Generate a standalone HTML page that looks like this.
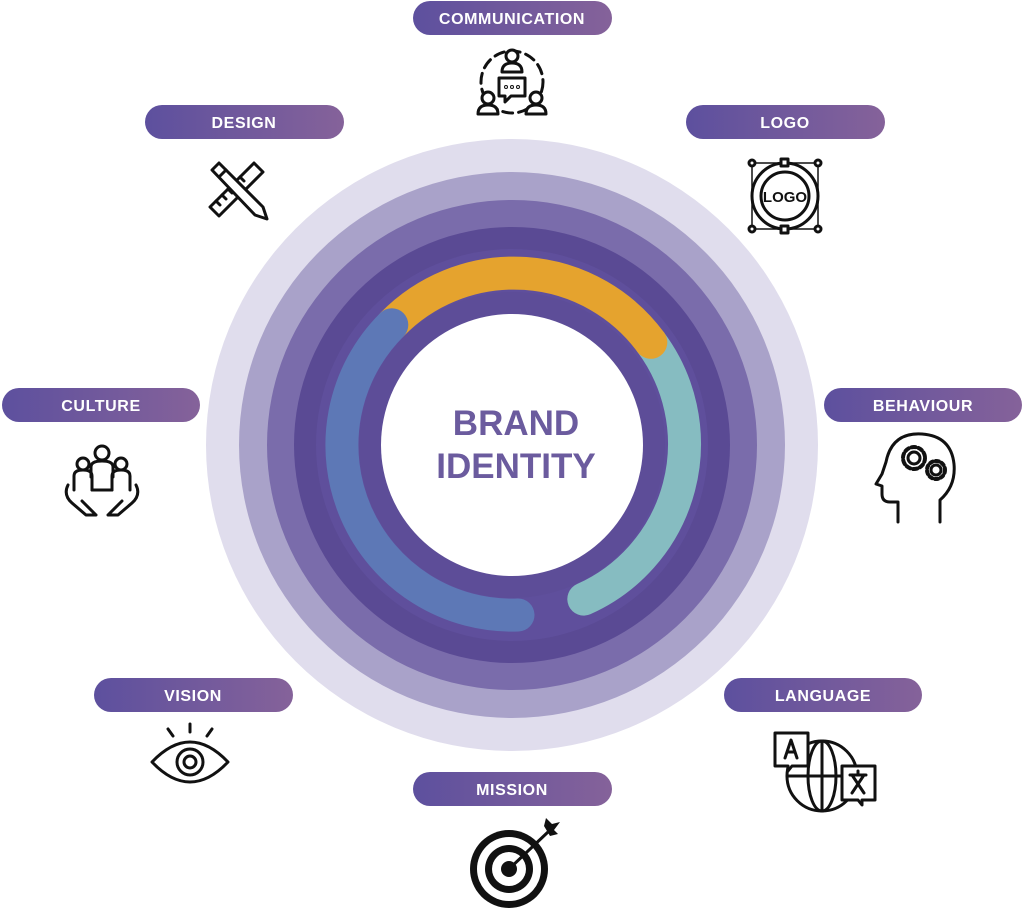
<!DOCTYPE html>
<html><head><meta charset="utf-8"><style>
html,body{margin:0;padding:0;background:#fff;}
svg{display:block;}
.lbl{font-family:"Liberation Sans",sans-serif;font-weight:bold;font-size:16px;letter-spacing:0.6px;fill:#fff;text-anchor:middle;}
.ic{fill:none;stroke:#111;stroke-width:3;stroke-linecap:round;stroke-linejoin:round;}
</style></head><body>
<svg width="1024" height="908" viewBox="0 0 1024 908" xmlns="http://www.w3.org/2000/svg">
<defs>
<linearGradient id="pg" x1="0" x2="1" y1="0" y2="0">
<stop offset="0" stop-color="#5d509e"/><stop offset="1" stop-color="#85629a"/>
</linearGradient>
</defs>
<circle cx="512" cy="445" r="306" fill="#e0dded"/>
<circle cx="512" cy="445" r="273" fill="#a9a2c9"/>
<circle cx="512" cy="445" r="245" fill="#7a6cab"/>
<circle cx="512" cy="445" r="218" fill="#5a4a94"/>
<circle cx="512" cy="445" r="196" fill="#5f4f9c"/>
<g fill="none" stroke-width="33" stroke-linecap="round">
<path d="M 650.8 342.3 A 170 170 0 0 1 583.8 599.1" stroke="#86bcc1"/>
<path d="M 391.8 324.8 A 170 170 0 0 1 650.8 342.3" stroke="#e5a32e"/>
<path d="M 391.8 324.8 A 170 170 0 0 0 518 615" stroke="#5d78b6"/>
</g>
<circle cx="512" cy="445" r="153" fill="#5d4d98"/>
<circle cx="512" cy="445" r="131" fill="#fff"/>
<text x="516" y="435" font-family="Liberation Sans,sans-serif" font-weight="bold" font-size="35" fill="#6b5b9e" text-anchor="middle">BRAND</text>
<text x="516" y="478" font-family="Liberation Sans,sans-serif" font-weight="bold" font-size="35" fill="#6b5b9e" text-anchor="middle">IDENTITY</text>

<g>
<rect x="413" y="1" width="199" height="34" rx="17" fill="url(#pg)"/><text class="lbl" x="512" y="24">COMMUNICATION</text>
<rect x="145" y="105" width="199" height="34" rx="17" fill="url(#pg)"/><text class="lbl" x="244" y="128">DESIGN</text>
<rect x="686" y="105" width="199" height="34" rx="17" fill="url(#pg)"/><text class="lbl" x="785" y="128">LOGO</text>
<rect x="2" y="388" width="198" height="34" rx="17" fill="url(#pg)"/><text class="lbl" x="101" y="411">CULTURE</text>
<rect x="824" y="388" width="198" height="34" rx="17" fill="url(#pg)"/><text class="lbl" x="923" y="411">BEHAVIOUR</text>
<rect x="94" y="678" width="199" height="34" rx="17" fill="url(#pg)"/><text class="lbl" x="193" y="701">VISION</text>
<rect x="724" y="678" width="198" height="34" rx="17" fill="url(#pg)"/><text class="lbl" x="823" y="701">LANGUAGE</text>
<rect x="413" y="772" width="199" height="34" rx="17" fill="url(#pg)"/><text class="lbl" x="512" y="795">MISSION</text>
</g>

<g class="ic">
<circle cx="512" cy="82" r="31" stroke-dasharray="10 6"/>
<circle cx="512" cy="56" r="6" fill="#fff"/><path d="M502 72 q0 -9 10 -9 q10 0 10 9 z" fill="#fff"/>
<circle cx="488" cy="98" r="6" fill="#fff"/><path d="M478 114 q0 -9 10 -9 q10 0 10 9 z" fill="#fff"/>
<circle cx="536" cy="98" r="6" fill="#fff"/><path d="M526 114 q0 -9 10 -9 q10 0 10 9 z" fill="#fff"/>
<path d="M499 78 h26 v18 h-14 l-6 6 v-6 h-6 z" fill="#fff"/>
<circle cx="506" cy="87" r="0.5"/><circle cx="512" cy="87" r="0.5"/><circle cx="518" cy="87" r="0.5"/>
</g>
<g class="ic">
<path d="M210 207 l44 -44 l9 9 l-44 44 z"/>
<path d="M216 201 l4 4 M222 195 l4 4 M228 189 l4 4 M234 183 l4 4 M240 177 l4 4"/>
<path d="M212 170 l7 -7 l44 44 l4 12 l-12 -4 z" fill="#fff"/>
<path d="M219 177 l7 -7"/>
</g>
<g class="ic">
<circle cx="785" cy="196" r="33"/><circle cx="785" cy="196" r="24"/>
<path d="M752 163 h66 v66 h-66 z" stroke-width="1.5"/>
<circle cx="752" cy="163" r="3" fill="#fff"/><circle cx="818" cy="163" r="3" fill="#fff"/>
<circle cx="752" cy="229" r="3" fill="#fff"/><circle cx="818" cy="229" r="3" fill="#fff"/>
<rect x="781" y="159" width="7" height="7" fill="#fff"/><rect x="781" y="226" width="7" height="7" fill="#fff"/>
</g>
<text x="785" y="202" font-family="Liberation Sans,sans-serif" font-weight="bold" font-size="15" fill="#111" text-anchor="middle">LOGO</text>
<g class="ic" stroke-width="2.6">
<circle cx="102" cy="453" r="7"/><path d="M91 477 v-10 q0 -6 11 -6 q11 0 11 6 v10"/>
<circle cx="83" cy="464" r="6"/><path d="M74 490 v-14 q0 -6 9 -6 q9 0 9 6 v14"/>
<circle cx="121" cy="464" r="6"/><path d="M112 490 v-14 q0 -6 9 -6 q9 0 9 6 v14"/>
<path d="M92 490 h20"/>
<path d="M68 485 q-5 10 4 18 l14 12 h10 M96 515 l-14 -14"/>
<path d="M136 485 q5 10 -4 18 l-14 12 h-10 M108 515 l14 -14"/>
</g>
<g class="ic">
<path d="M940 522 v-22 q16 -14 14 -36 q-3 -28 -32 -30 q-30 -2 -36 28 l-4 12 l-6 10 l6 2 v8 q0 8 8 8 h8 v20"/>
<circle cx="914" cy="458" r="6"/><circle cx="914" cy="458" r="11" stroke-dasharray="4 3" stroke-width="4"/>
<circle cx="936" cy="470" r="5"/><circle cx="936" cy="470" r="9" stroke-dasharray="3 3" stroke-width="4"/>
</g>
<g class="ic">
<path d="M152 762 q38 -40 76 0 q-38 40 -76 0 z"/>
<circle cx="190" cy="762" r="13"/><circle cx="190" cy="762" r="6"/>
<path d="M190 732 v-8 M173 736 l-5 -7 M207 736 l5 -7"/>
</g>
<g class="ic" stroke-width="2.6">
<circle cx="822" cy="776" r="35"/>
<ellipse cx="822" cy="776" rx="14" ry="35"/>
<path d="M787 776 h70 M822 741 v70"/>
<path d="M775 733 h33 v33 h-16 l-4 5 v-5 h-13 z" fill="#fff"/>
<path d="M842 766 h33 v34 h-13 v5 l-4 -5 h-16 z" fill="#fff"/>
<path d="M785 758 l6 -18 l6 18 M787 752 h8"/>
<path d="M850 775 h16 M858 771 v4 M852 793 l12 -18 M864 793 l-12 -18"/>
</g>
<g>
<circle cx="509" cy="869" r="39" fill="#111"/>
<circle cx="509" cy="869" r="32" fill="#fff"/>
<circle cx="509" cy="869" r="24" fill="#111"/>
<circle cx="509" cy="869" r="17" fill="#fff"/>
<circle cx="509" cy="869" r="8" fill="#111"/>
<path d="M509 869 L548 832" stroke="#111" stroke-width="3"/>
<path d="M544 826 l2 -8 l6 6 l8 -2 l-6 8 l4 4 l-8 2 z" fill="#111"/>
</g>
</svg>
</body></html>
